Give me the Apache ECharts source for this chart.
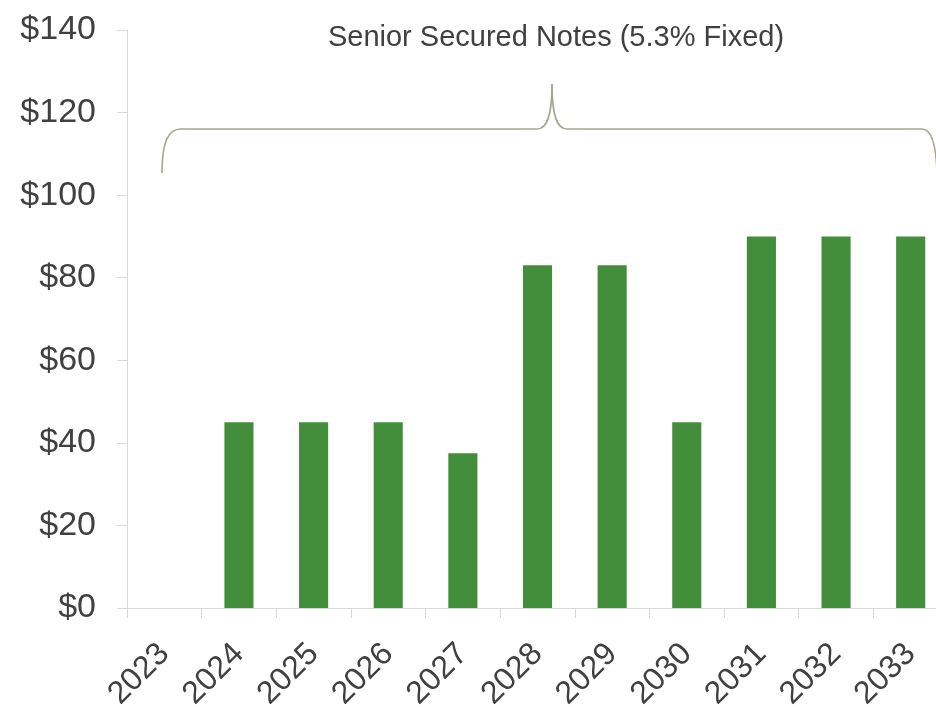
<!DOCTYPE html>
<html>
<head>
<meta charset="utf-8">
<script src="https://cdn.jsdelivr.net/npm/echarts@6/dist/echarts.min.js"></script>
<style>
  html, body { margin: 0; padding: 0; background: #fff; overflow: hidden; }
  /* chart is a bit wider than the window: the last category is cut off on the right */
  #chart { width: 948px; height: 707px; }
</style>
</head>
<body>
<div id="chart"></div>
<script>
// maturities by year ($ millions)
var years = ['2023', '2024', '2025', '2026', '2027', '2028', '2029', '2030', '2031', '2032', '2033'];
var notes = [0, 45, 45, 45, 37.5, 83, 83, 45, 90, 90, 90];
var yTicks = [0, 20, 40, 60, 80, 100, 120, 140];
var braceLabel = 'Senior Secured Notes (5.3% Fixed)';

var colors = ['#438e3a', '#404040', '#d9d9d9', '#a5a78f']; // bar green, text, axis grey, brace
var font = '"Liberation Sans", Arial, sans-serif';

// brace pieces (pixel annotation)
var braceStyle = { fill: null, stroke: colors[3], lineWidth: 1.6 };
function curve(x1, y1, c1x, c1y, c2x, c2y, x2, y2) {
    return { type: 'bezierCurve', silent: true,
        shape: { x1: x1, y1: y1, cpx1: c1x, cpy1: c1y, cpx2: c2x, cpy2: c2y, x2: x2, y2: y2 },
        style: braceStyle };
}
function seg(x1, y1, x2, y2) {
    return { type: 'line', silent: true, shape: { x1: x1, y1: y1, x2: x2, y2: y2 }, style: braceStyle };
}

var myChart = echarts.init(document.getElementById('chart'));
var option = {
    animation: false,
    grid: {
        left: 127,
        top: 30,
        right: 0,
        height: 578,
        containLabel: false,
        outerBoundsMode: 'none'
    },
    xAxis: {
        type: 'category',
        data: years,
        axisLine: { lineStyle: { color: colors[2], width: 1 } },
        axisTick: { show: true, length: 10, lineStyle: { color: colors[2] } },
        axisLabel: {
            rotate: 45,
            margin: 41,
            color: colors[1],
            fontSize: 32,
            fontFamily: font,
            interval: 0
        }
    },
    yAxis: {
        type: 'value',
        min: yTicks[0],
        max: yTicks[yTicks.length - 1],
        interval: 20,
        splitLine: { show: false },
        axisLine: { show: true, lineStyle: { color: colors[2] } },
        axisTick: { show: true, length: 10, lineStyle: { color: colors[2] } },
        axisLabel: {
            margin: 31,
            color: colors[1],
            fontSize: 34,
            fontFamily: font,
            formatter: function (v) { return '$' + v; }
        }
    },
    series: [{
        type: 'bar',
        data: notes,
        barWidth: '39%',
        itemStyle: { color: colors[0] }
    }],
    graphic: [
        curve(162, 173, 162, 142, 168, 129, 181, 129),
        seg(181, 129, 537, 129),
        curve(537, 129, 547, 129, 552, 116, 552, 84),
        curve(552, 84, 552, 116, 557, 129, 567, 129),
        seg(567, 129, 922, 129),
        curve(922, 129, 930, 129, 936, 140, 937, 173),
        {
            type: 'text',
            x: 556,
            y: 38,
            style: {
                text: braceLabel,
                fill: colors[1],
                font: '29px ' + font,
                align: 'center',
                verticalAlign: 'middle'
            }
        }
    ]
};
myChart.setOption(option);
</script>
</body>
</html>
